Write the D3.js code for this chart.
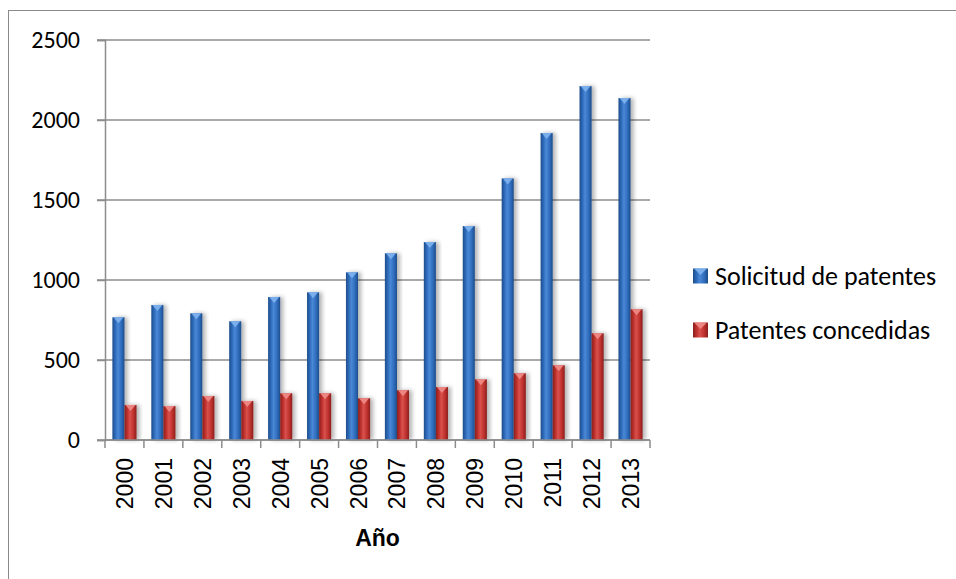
<!DOCTYPE html>
<html>
<head>
<meta charset="utf-8">
<script src="https://cdn.jsdelivr.net/npm/d3@7"></script>
<style>
  html, body { margin: 0; padding: 0; background: #fff; }
  svg { display: block; }
</style>
</head>
<body>
<svg id="chart" width="956" height="579"></svg>
<script>
// Patent data per year
const years = ["2000","2001","2002","2003","2004","2005","2006","2007","2008","2009","2010","2011","2012","2013"];
const solicitudes = [767, 844, 792, 742, 894, 923, 1048, 1167, 1237, 1337, 1635, 1919, 2212, 2137];
const concedidas  = [219, 212, 275, 244, 292, 292, 261, 311, 331, 379, 417, 467, 667, 817];
const seriesNames = ["Solicitud de patentes", "Patentes concedidas"];
const yTicks = [0, 500, 1000, 1500, 2000, 2500];
const xTitle = "Año";

const svg = d3.select("#chart");

// Palettes for the two series: edge, body, highlight, cap
const palettes = [
  { edge: "#1d4c8a", body: "#2f6cbc", light: "#4a88d6", cap: "#7fb2ee" },
  { edge: "#8a1f1d", body: "#bf312d", light: "#d9514c", cap: "#f08c88" }
];

const defs = svg.append("defs");
palettes.forEach((p, i) => {
  const g = defs.append("linearGradient").attr("id", "grad" + i)
    .attr("x1", "0%").attr("x2", "100%").attr("y1", "0%").attr("y2", "0%");
  g.append("stop").attr("offset", "0%").attr("stop-color", p.edge);
  g.append("stop").attr("offset", "25%").attr("stop-color", p.body);
  g.append("stop").attr("offset", "45%").attr("stop-color", p.light);
  g.append("stop").attr("offset", "75%").attr("stop-color", p.body);
  g.append("stop").attr("offset", "100%").attr("stop-color", p.edge);
});
const shadow = defs.append("filter").attr("id", "shadow")
  .attr("x", "-50%").attr("y", "-10%").attr("width", "200%").attr("height", "120%");
shadow.append("feDropShadow").attr("dx", 3).attr("dy", 0)
  .attr("stdDeviation", 2).attr("flood-color", "#000").attr("flood-opacity", 0.3);

// Outer frame
svg.append("rect").attr("x", 8.5).attr("y", 10.5).attr("width", 970).attr("height", 590)
  .attr("fill", "none").attr("stroke", "#8a8a8a").attr("stroke-width", 1);

const plotLeft = 105, plotRight = 650, plotTop = 40, plotBottom = 440;

const x = d3.scaleBand().domain(years).range([plotLeft, plotRight]).padding(0);
const groupW = x.bandwidth() * 0.62;
const x1 = d3.scaleBand().domain([0, 1]).range([0, groupW]).padding(0);
const y = d3.scaleLinear().domain([0, 2500]).range([plotBottom, plotTop]);

// Gridlines
svg.append("g").selectAll("line").data(yTicks).join("line")
  .attr("x1", plotLeft - 8).attr("x2", plotRight)
  .attr("y1", d => y(d)).attr("y2", d => y(d))
  .attr("stroke", "#8c8c8c").attr("stroke-width", 1.5);

// Y axis
const yAxis = svg.append("g").attr("transform", `translate(${plotLeft},0)`)
  .call(d3.axisLeft(y).tickValues(yTicks).tickFormat(d3.format("d")).tickSize(8).tickPadding(17));
yAxis.select(".domain").attr("stroke", "#8c8c8c").attr("stroke-width", 1.5);
yAxis.selectAll(".tick line").attr("stroke", "#8c8c8c").attr("stroke-width", 1.5);
yAxis.selectAll(".tick text")
  .attr("font-family", "Carlito, Lato, 'Open Sans', sans-serif")
  .attr("font-size", 24).attr("fill", "#000");

// Bars
const series = [solicitudes, concedidas];
const barsG = svg.append("g");
series.forEach((vals, si) => {
  const p = palettes[si];
  const g = barsG.append("g");
  const bx = (d, i) => x(years[i]) + (x.bandwidth() - groupW) / 2 + x1(si);
  const bw = x1.bandwidth();
  g.selectAll("rect").data(vals).join("rect")
    .attr("x", bx)
    .attr("y", d => y(d))
    .attr("width", bw)
    .attr("height", d => y(0) - y(d))
    .attr("fill", `url(#grad${si})`)
    .attr("filter", "url(#shadow)");
  // bevelled cap
  g.selectAll("path.cap").data(vals).join("path")
    .attr("class", "cap")
    .attr("d", (d, i) => {
      const x0 = bx(d, i), yt = y(d);
      return `M${x0 + 1},${yt} L${x0 + bw - 1},${yt} L${x0 + bw / 2},${yt + 6} Z`;
    })
    .attr("fill", p.cap).attr("opacity", 0.9);
});

// X axis
const xAxisG = svg.append("g");
xAxisG.append("line").attr("x1", plotLeft).attr("x2", plotRight)
  .attr("y1", plotBottom).attr("y2", plotBottom)
  .attr("stroke", "#8c8c8c").attr("stroke-width", 1.5);
const tickXs = years.map(yr => x(yr)).concat([plotRight]);
xAxisG.selectAll("line.tk").data(tickXs).join("line")
  .attr("class", "tk")
  .attr("x1", d => d).attr("x2", d => d)
  .attr("y1", plotBottom).attr("y2", plotBottom + 8)
  .attr("stroke", "#8c8c8c").attr("stroke-width", 1.5);
xAxisG.selectAll("text").data(years).join("text")
  .attr("transform", d => `translate(${x(d) + x.bandwidth() / 2 + 8.5},458) rotate(-90)`)
  .attr("text-anchor", "end")
  .attr("font-family", "'Liberation Sans', Arimo, Arial, sans-serif")
  .attr("font-size", 23).attr("fill", "#000")
  .text(d => d);

// Axis title
svg.append("text")
  .attr("x", (plotLeft + plotRight) / 2).attr("y", 546)
  .attr("text-anchor", "middle")
  .attr("font-family", "'Liberation Sans', Arimo, Arial, sans-serif")
  .attr("font-weight", "bold").attr("font-size", 23).attr("fill", "#000")
  .text(xTitle);

// Legend
const legend = svg.append("g");
const legendYs = [276, 330];
seriesNames.forEach((name, i) => {
  const p = palettes[i];
  const cy = legendYs[i];
  legend.append("rect").attr("x", 693).attr("y", cy - 7.5).attr("width", 15).attr("height", 15)
    .attr("fill", `url(#grad${i})`);
  legend.append("path")
    .attr("d", `M694,${cy - 7.5} L707,${cy - 7.5} L700.5,${cy - 1} Z`)
    .attr("fill", p.cap).attr("opacity", 0.9);
  legend.append("text").attr("x", 715).attr("y", cy + 9)
    .attr("font-family", "Carlito, Lato, 'Open Sans', sans-serif")
    .attr("font-size", 26).attr("fill", "#000")
    .text(name);
});
</script>
</body>
</html>
